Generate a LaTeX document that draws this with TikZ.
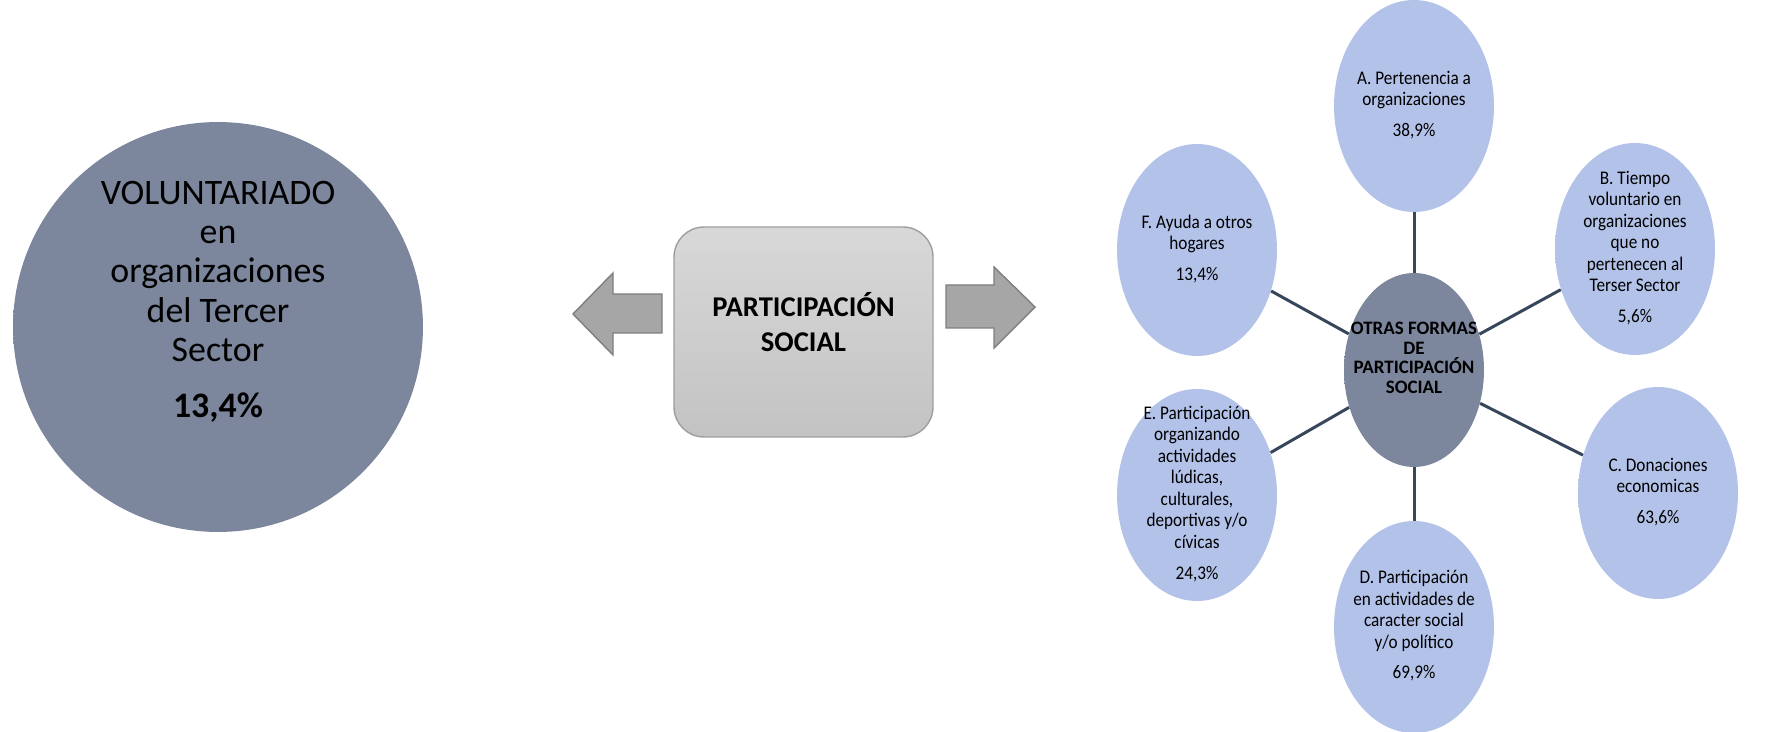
\documentclass[tikz,border=0pt]{standalone}
\usepackage{fontspec}
\usepackage{graphicx}
\setmainfont{Carlito}
\usetikzlibrary{shadings,shapes.geometric}
\definecolor{smin}{HTML}{B3C2E9}
\definecolor{smmid}{HTML}{BECAEE}
\definecolor{smout}{HTML}{A4ADC4}
\definecolor{dkin}{HTML}{7C869C}
\definecolor{dkmid}{HTML}{858FA5}
\definecolor{dkout}{HTML}{A3A9B8}
\definecolor{linkc}{HTML}{37465A}
\definecolor{arrowfill}{HTML}{A6A6A6}
\definecolor{arrowdraw}{HTML}{7F7F7F}
\definecolor{boxtop}{HTML}{D8D8D8}
\definecolor{boxbot}{HTML}{C3C3C3}
\definecolor{boxdraw}{HTML}{9E9E9E}
\pgfdeclareradialshading{smallball}{\pgfpoint{0bp}{0bp}}{color(0bp)=(smin); color(38bp)=(smin); color(46bp)=(smmid); color(49bp)=(smmid); color(50bp)=(smout)}
\pgfdeclareradialshading{darkball}{\pgfpoint{0bp}{0bp}}{color(0bp)=(dkin); color(40bp)=(dkin); color(47bp)=(dkmid); color(49bp)=(dkmid); color(50bp)=(dkout)}
\newcommand\stretchtxt[1]{\scalebox{1}[1.12]{\begin{tabular}{@{}c@{}}#1\end{tabular}}}
\tikzset{
  sat/.style={ellipse, minimum width=3.2cm, minimum height=4.24cm, inner sep=0pt, shade, shading=smallball},
  sattext/.style={inner sep=0pt, text=black, font=\fontsize{9.8}{10.9}\selectfont},
  darkc/.style={ellipse, minimum width=2.8cm, minimum height=3.88cm, inner sep=0pt, shade, shading=darkball},
  ctrtext/.style={align=center, text=black, inner sep=0pt, font=\bfseries\fontsize{10.8}{11.2}\selectfont},
  bigc/.style={circle, minimum size=8.2cm, inner sep=0pt, shade, shading=darkball},
  bigtext/.style={align=center, text=black, inner sep=0pt, font=\fontsize{20.4}{22.3}\selectfont},
  pbox/.style={rectangle, rounded corners=0.6cm, minimum width=5.18cm, minimum height=4.2cm, top color=boxtop, bottom color=boxbot, draw=boxdraw, line width=0.8pt},
  pboxtext/.style={align=center, text=black, inner sep=0pt, font=\bfseries\fontsize{16.3}{20.4}\selectfont},
  link/.style={draw=linkc, line width=1.7pt},
  blockarrow/.style={fill=arrowfill, draw=arrowdraw, line width=0.8pt, line join=miter},
}
\begin{document}
\begin{tikzpicture}[x=0.02cm, y=-0.02cm]
\useasboundingbox (0,0) rectangle (1774,732);
\fill[white] (0,0) rectangle (1774,732);

% left big circle
\node[bigc] (vol) at (218,327) {};
\node[bigtext] (voltext) at (218,302) {VOLUNTARIADO\\en\\organizaciones\\del Tercer\\Sector\\[10pt]\textbf{13,4\%}};

% central box and arrows
\node[pbox] (ps) at (803.5,332) {};
\node[pboxtext] (pstext) at (803.5,322) {PARTICIPACIÓN\\SOCIAL};
\draw[blockarrow] (573,314) -- (613,273) -- (613,294) -- (662,294) -- (662,333) -- (613,333) -- (613,355) -- cycle;
\draw[blockarrow] (1035,307) -- (994,267) -- (994,285) -- (946,285) -- (946,328) -- (994,328) -- (994,348) -- cycle;

% right cluster: shapes
\node[darkc] (ctr) at (1414,370) {};
\node[sat] (A) at (1414,106) {};
\node[sat] (B) at (1635,249) {};
\node[sat] (C) at (1658,493) {};
\node[sat] (D) at (1414,627) {};
\node[sat] (E) at (1197,495) {};
\node[sat] (F) at (1197,250) {};

% connectors
\draw[link] (ctr) -- (A);
\draw[link] (ctr) -- (B);
\draw[link] (ctr) -- (C);
\draw[link] (ctr) -- (D);
\draw[link] (ctr) -- (E);
\draw[link] (ctr) -- (F);

% texts
\node[ctrtext] (ctrtext) at (1414,358) {OTRAS FORMAS\\DE\\PARTICIPACIÓN\\SOCIAL};
\node[sattext] (At) at (A.center) {\stretchtxt{A. Pertenencia a\\organizaciones\\[4.8pt]38,9\%}};
\node[sattext] (Bt) at (B.center) {\stretchtxt{B. Tiempo\\voluntario en\\organizaciones\\que no\\pertenecen al\\Terser Sector\\[4.8pt]5,6\%}};
\node[sattext] (Ct) at (C.center) {\stretchtxt{C. Donaciones\\economicas\\[4.8pt]63,6\%}};
\node[sattext] (Dt) at (D.center) {\stretchtxt{D. Participación\\en actividades de\\caracter social\\y/o político\\[4.8pt]69,9\%}};
\node[sattext] (Et) at (E.center) {\stretchtxt{E. Participación\\organizando\\actividades\\lúdicas,\\culturales,\\deportivas y/o\\cívicas\\[4.8pt]24,3\%}};
\node[sattext] (Ft) at (F.center) {\stretchtxt{F. Ayuda a otros\\hogares\\[4.8pt]13,4\%}};
\end{tikzpicture}
\end{document}
